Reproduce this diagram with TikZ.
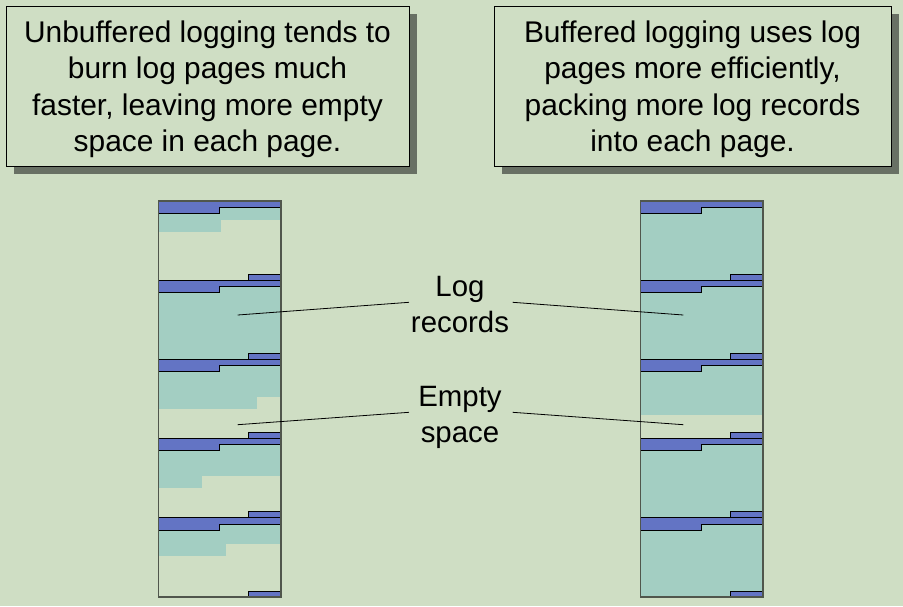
\documentclass[tikz,border=0pt]{standalone}
\usepackage{fontspec}
\setmainfont{Liberation Sans}
\definecolor{bgc}{RGB}{207,222,196}
\definecolor{bluec}{RGB}{99,116,196}
\definecolor{tealc}{RGB}{163,206,194}
\definecolor{shadowc}{RGB}{104,112,100}
\definecolor{colc}{RGB}{80,86,76}
\begin{document}
\begin{tikzpicture}[x=1pt,y=-1pt,
  txt/.style={font=\fontsize{29.4}{36}\selectfont, align=center, inner sep=0pt},
  boxtxt/.style={font=\fontsize{29.9}{36.2}\selectfont, align=center, inner sep=0pt},
  callout/.style={draw=black, line width=1pt, fill=bgc, inner sep=0pt},
  shadowbox/.style={fill=shadowc, draw=none},
  recfill/.style={fill=tealc, draw=none},
  hdr/.style={fill=bluec, draw=black, line width=0.9pt},
  colframe/.style={draw=colc, line width=1.3pt},
  leader/.style={draw=black, line width=0.8pt}]
\fill[bgc] (0,0) rectangle (903,606);
\useasboundingbox (0,0) rectangle (903,606);

% callout boxes with shadows
\fill[shadowbox] (14,14) rectangle (417,174);
\fill[shadowbox] (502,14) rectangle (899,174);
\node[callout, minimum width=403pt, minimum height=160pt] (boxL) at (207.5,86) {};
\node[callout, minimum width=397pt, minimum height=160pt] (boxR) at (692.5,86) {};
\node[boxtxt] (textL) at (207.5,89.2) {Unbuffered logging tends to\\burn log pages much\\faster, leaving more empty\\space in each page.};
\node[boxtxt] (textR) at (692.5,89.2) {Buffered logging uses log\\pages more efficiently,\\packing more log records\\into each page.};

% log records (left column, unbuffered)
\fill[recfill] (158.5,201) rectangle (281,220);
\fill[recfill] (158.5,201) rectangle (221,231.7);
\fill[recfill] (158.5,280.2) rectangle (281,359.4);
\fill[recfill] (158.5,359.4) rectangle (281,396.7);
\fill[recfill] (158.5,359.4) rectangle (257,408.7);
\fill[recfill] (158.5,438.6) rectangle (281,475.7);
\fill[recfill] (158.5,438.6) rectangle (201.7,487.7);
\fill[recfill] (158.5,517.8) rectangle (281,543.7);
\fill[recfill] (158.5,517.8) rectangle (226,555.7);
% log records (right column, buffered)
\fill[recfill] (640.5,201) rectangle (763,415);
\fill[recfill] (640.5,438.6) rectangle (763,597);

% page headers and trailers
\foreach \xa/\xb in {158.5/281, 640.5/763}{
  \foreach \i [evaluate=\i as \t using 201+79.2*\i] in {0,...,4}{
    \draw[hdr] (\xa,\t) -- (\xb,\t) -- (\xb,\t+6.3) -- (\xa+61,\t+6.3)
      -- (\xa+61,\t+12.3) -- (\xa,\t+12.3) -- cycle;
    \draw[hdr] (\xb-33,\t+73.2) rectangle (\xb,\t+79.2);
  }
}

% column frames
\draw[colframe] (158.5,201) rectangle (281,597);
\draw[colframe] (640.5,201) rectangle (763,597);

% labels
\node[txt] (lblLog) at (460,304.8) {Log\\records};
\node[txt] (lblEmpty) at (460,417.3) {Empty\\space};

\coordinate (logA) at (409,302.3);
\coordinate (logB) at (512.7,302.3);
\coordinate (logL) at (237.7,315);
\coordinate (logR) at (683.3,315);
\coordinate (empA) at (409,412.3);
\coordinate (empB) at (512.7,412.3);
\coordinate (empL) at (237.7,424.7);
\coordinate (empR) at (683.3,424.7);
\draw[leader] (logA) -- (logL);
\draw[leader] (logB) -- (logR);
\draw[leader] (empA) -- (empL);
\draw[leader] (empB) -- (empR);
\end{tikzpicture}
\end{document}
